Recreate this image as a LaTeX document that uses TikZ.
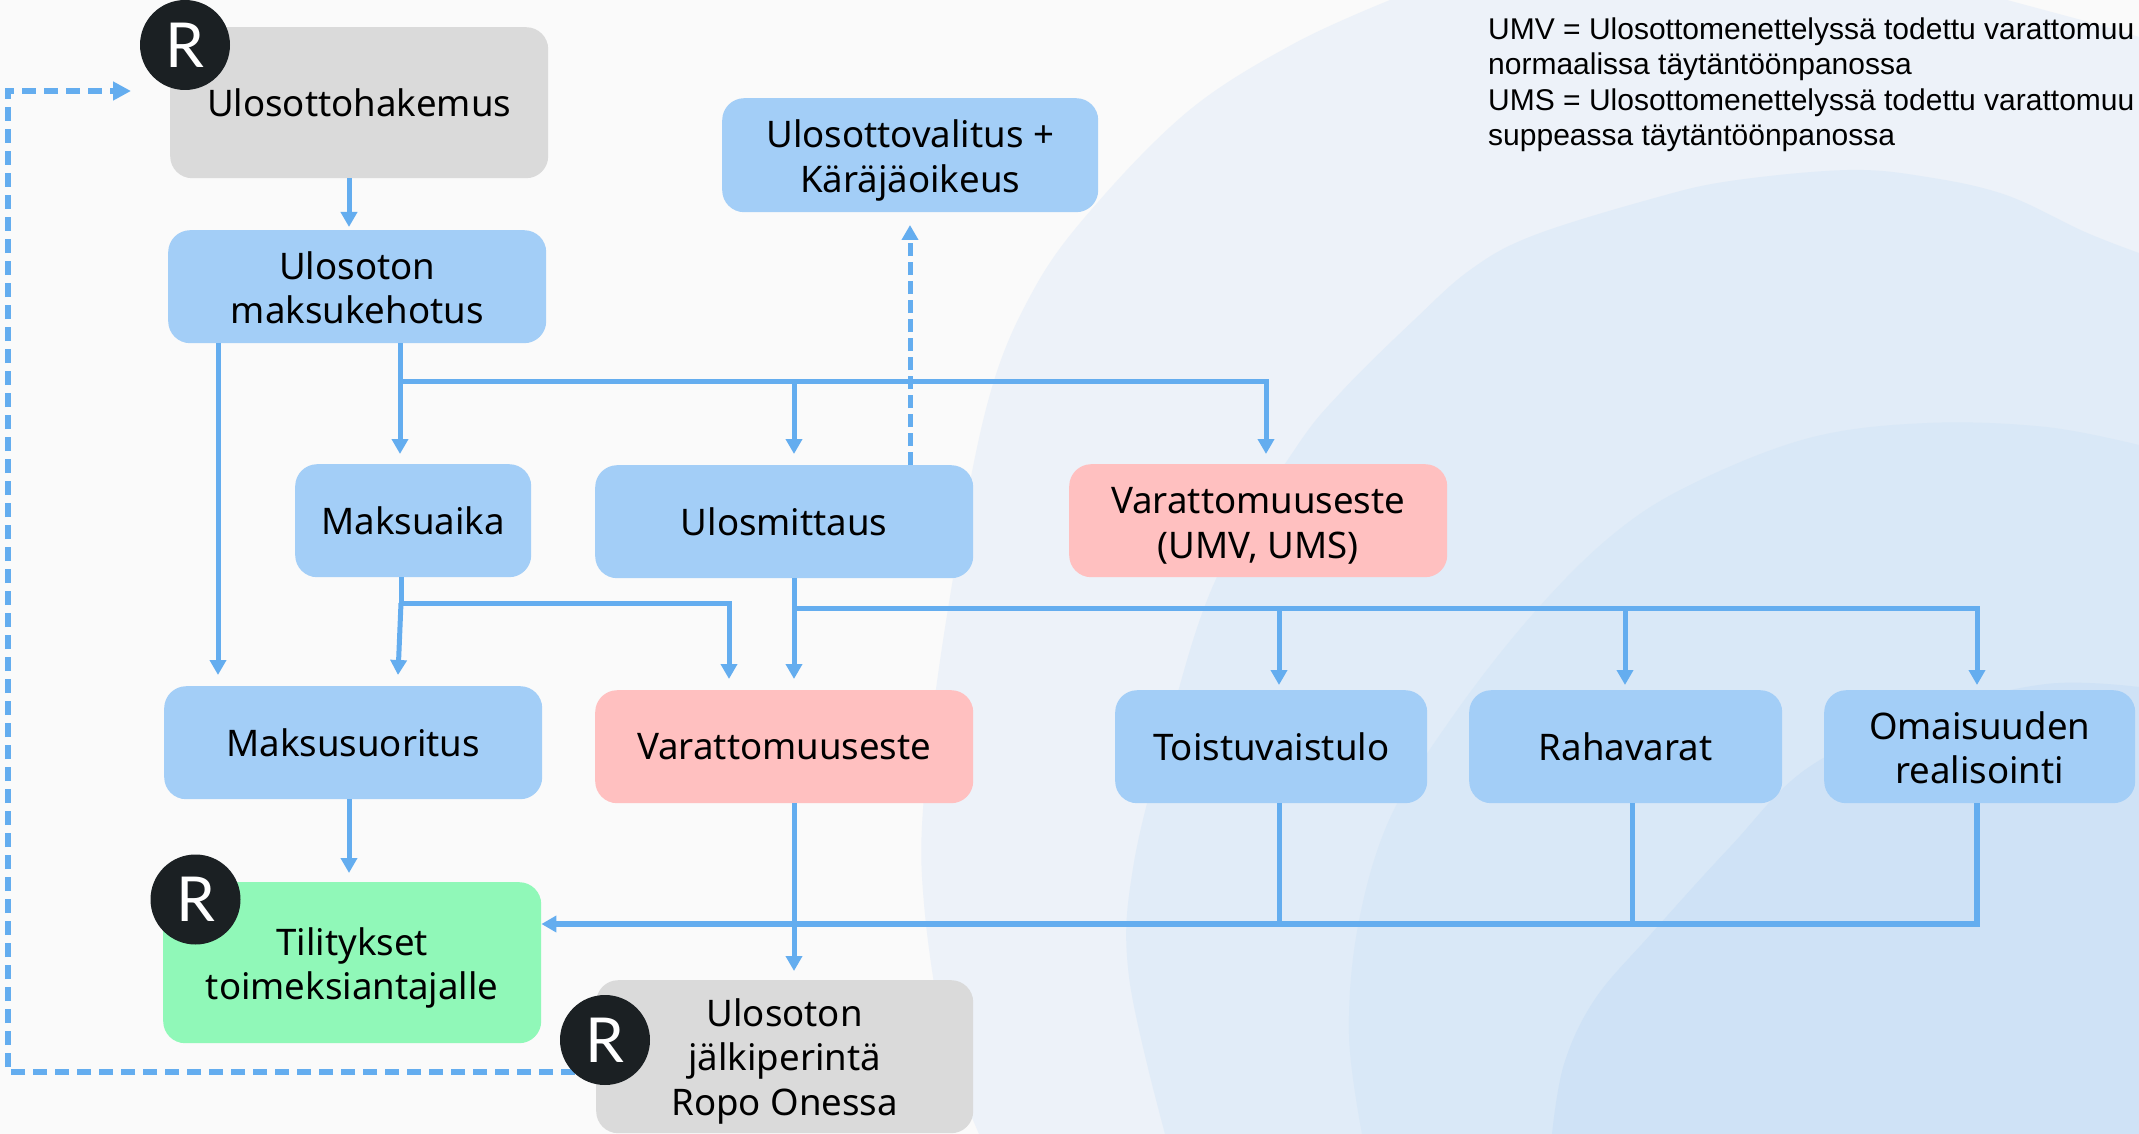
\documentclass[tikz,border=0pt]{standalone}
\usepackage{fontspec}
\setmainfont{Noto Sans}
\newfontfamily\legendfont{Liberation Sans}
\newfontfamily\rfont{Lato}
\usetikzlibrary{arrows.meta}
\definecolor{bgc}{HTML}{FAFAFA}
\definecolor{blobA}{HTML}{EDF2F9}
\definecolor{blobB}{HTML}{E1ECF8}
\definecolor{blobC}{HTML}{D9E8F7}
\definecolor{blobD}{HTML}{CFE2F6}
\definecolor{bluebox}{HTML}{A3CEF7}
\definecolor{greybox}{HTML}{DADADA}
\definecolor{pinkbox}{HTML}{FFC0C0}
\definecolor{greenbox}{HTML}{90F8B8}
\definecolor{linec}{HTML}{64ADEF}
\definecolor{darkc}{HTML}{1B2023}
\tikzset{
  x=1pt,y=-1pt,
  boxbase/.style={rounded corners=22pt,inner sep=0pt,align=center,text=black,font=\fontsize{36.6}{44.5}\selectfont,anchor=north west},
  bluenode/.style={boxbase,fill=bluebox},
  greynode/.style={boxbase,fill=greybox},
  pinknode/.style={boxbase,fill=pinkbox},
  greennode/.style={boxbase,fill=greenbox},
  rbadge/.style={circle,fill=darkc,text=white,minimum size=90pt,inner sep=0pt,font=\rfont\fontsize{62}{62}\selectfont},
  conn/.style={draw=linec,line width=5pt},
  arr/.style={conn,-{Triangle[length=15pt,width=16pt]}},
  dashline/.style={conn,line width=6pt,dash pattern=on 14pt off 8pt,-{Triangle[length=18pt,width=18pt]}},
  legend/.style={anchor=north west,inner sep=0pt,align=left,font=\legendfont\fontsize{30}{35.4}\selectfont,text=black},
  blobline/.style={smooth,tension=0.6}
}
\newcommand{\boxnode}[7]{\node[#1,minimum width=#5pt-#3pt,minimum height=#6pt-#4pt] (#2) at (#3,#4) {#7};}
\newcommand{\upx}[1]{\rule{0pt}{#1pt}}
\begin{document}
\begin{tikzpicture}
\useasboundingbox (0,0) rectangle (2139,1134);
\fill[bgc] (0,0) rectangle (2139,1134);
\begin{scope}
\clip (0,0) rectangle (2139,1134);
\fill[blobA] plot[blobline] coordinates {(1390,0) (1295,43) (1192,108) (1098,202) (1034,289) (987,405) (947,615) (924,796) (924,904) (945,1040) (979,1134)} -- (2139,1134) -- (2139,37) -- (2100,25) -- (2007,0) -- cycle;
\fill[blobB] plot[blobline] coordinates {(2139,253) (2085,232) (2006,195) (1927,177) (1848,170) (1730,181) (1651,199) (1532,236) (1470,270) (1414,320) (1342,391) (1295,449) (1216,579) (1169,724) (1133,868) (1129,977) (1165,1134)} -- (2139,1134) -- cycle;
\fill[blobC] plot[blobline] coordinates {(2139,445) (2046,427) (1927,423) (1809,438) (1690,485) (1611,536) (1532,615) (1453,716) (1390,818) (1358,926) (1349,1035) (1362,1134)} -- (2139,1134) -- cycle;
\fill[blobD] plot[blobline] coordinates {(2139,687) (2046,684) (1927,713) (1809,767) (1730,847) (1651,934) (1595,999) (1564,1064) (1552,1134)} -- (2139,1134) -- cycle;
\end{scope}
% boxes
\boxnode{greynode}{hak}{170}{27}{548}{178}{Ulosottohakemus}
\boxnode{bluenode}{keh}{168}{230}{546}{343}{\upx{30}Ulosoton\\maksukehotus}
\boxnode{bluenode}{val}{722}{98}{1098}{212}{\upx{38}Ulosottovalitus +\\Käräjäoikeus}
\boxnode{bluenode}{aika}{295}{464}{531}{577}{Maksuaika}
\boxnode{bluenode}{mit}{595}{465}{973}{578}{Ulosmittaus}
\boxnode{pinknode}{vumv}{1069}{464}{1447}{577}{\upx{36}Varattomuuseste\\(UMV, UMS)}
\boxnode{bluenode}{suo}{164}{686}{542}{799}{Maksusuoritus}
\boxnode{pinknode}{var}{595}{690}{973}{803}{Varattomuuseste}
\boxnode{bluenode}{toi}{1115}{690}{1427}{803}{Toistuvaistulo}
\boxnode{bluenode}{rah}{1469}{690}{1782}{803}{Rahavarat}
\boxnode{bluenode}{oma}{1824}{690}{2135}{803}{\upx{30}Omaisuuden\\realisointi}
\boxnode{greennode}{til}{163}{882}{541}{1043}{\upx{38}Tilitykset\\toimeksiantajalle}
\boxnode{greynode}{jal}{596}{980}{973}{1133}{\upx{37}Ulosoton\\jälkiperintä\\Ropo Onessa}
% legend
\node[legend] (leg) at (1488,17.5) {UMV = Ulosottomenettelyssä todettu varattomuu\\normaalissa täytäntöönpanossa\\UMS = Ulosottomenettelyssä todettu varattomuu\\suppeassa täytäntöönpanossa};
% junction coordinates
\coordinate (jk) at (400,381);
\coordinate (jk2) at (794,381);
\coordinate (jk3) at (1266,381);
\coordinate (ja) at (401,603);
\coordinate (jm) at (794,608);
\coordinate (jt) at (1279,608);
\coordinate (jr) at (1625,608);
\coordinate (jo) at (1977,608);
\coordinate (bt) at (1279,924);
\coordinate (br) at (1632,924);
\coordinate (bo) at (1977,924);
\coordinate (tkeh) at (349,227);
\coordinate (tsuoA) at (218,675);
\coordinate (taika) at (400,454);
\coordinate (tmit) at (794,454);
\coordinate (tvumv) at (1266,454);
\coordinate (tval) at (910,225);
\coordinate (tsuoB) at (398,675);
\coordinate (tvarA) at (729,679);
\coordinate (tvarB) at (794,679);
\coordinate (ttoi) at (1279,685);
\coordinate (trah) at (1625,685);
\coordinate (toma) at (1977,685);
\coordinate (ttil) at (349,873);
\coordinate (tjal) at (794,971);
\coordinate (dstart) at (575,1072);
\coordinate (dl) at (8,1072);
\coordinate (dt) at (8,91);
\coordinate (dh) at (131,91);
% connectors
\draw[arr] (hak.south -| tkeh) -- (tkeh);
\draw[arr] (keh.south -| tsuoA) -- (tsuoA);
\draw[arr] (keh.south -| jk) -- (taika);
\draw[arr] (jk) -- (jk3) -- (tvumv);
\draw[arr] (jk2) -- (tmit);
\draw[arr,dash pattern=on 13pt off 6pt] (mit.north -| tval) -- (tval);
\draw[conn] (aika.south -| ja) -- (ja);
\draw[arr] (ja) -- (tsuoB);
\draw[arr] (ja) -| (tvarA);
\draw[arr] (mit.south -| jm) -- (tvarB);
\draw[arr] (jm) -- (jo) -- (toma);
\draw[arr] (jt) -- (ttoi);
\draw[arr] (jr) -- (trah);
\draw[arr] (suo.south -| ttil) -- (ttil);
\draw[arr] (var.south -| tjal) -- (tjal);
\draw[conn] (toi.south -| bt) -- (bt);
\draw[conn] (rah.south -| br) -- (br);
\draw[arr,line width=5.5pt] (oma.south -| bo) -- (bo) -- (til.east |- bo);
\draw[dashline] (dstart) -- (dl) -- (dt) -- (dh);
% badges
\node[rbadge] (r1) at (185,45) {R};
\node[rbadge] (r2) at (195.5,899.5) {R};
\node[rbadge] (r3) at (605,1040) {R};
\end{tikzpicture}
\end{document}
